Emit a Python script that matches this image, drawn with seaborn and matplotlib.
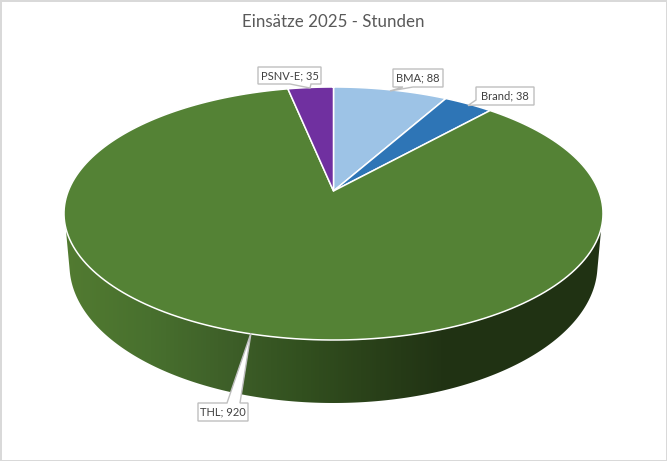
import numpy as np
import pandas as pd
import seaborn as sns
import matplotlib.pyplot as plt
from matplotlib.colors import LinearSegmentedColormap
from matplotlib.patches import Polygon

# Data
categories = ['BMA', 'Brand', 'THL', 'PSNV-E']
hours = [88, 38, 920, 35]
slice_colors = ['#9DC3E6', '#2E75B6', '#548235', '#7030A0']
side_stops = [(0.0, '#527B31'), (0.16, '#48702E'), (0.31, '#3D5E28'), (0.44, '#32501F'),
              (0.55, '#2B431A'), (0.70, '#213314'), (1.0, '#203213')]

df = pd.DataFrame({'category': categories, 'hours': hours})

sns.set_theme(style='white')
plt.rcParams['font.family'] = ['Lato', 'DejaVu Sans']

# Top and bottom ellipse of the disc, in pixels
top_cx, top_cy, top_a, top_b = 333.5, 213.5, 269.5, 126.5
bot_cx, bot_cy, bot_a, bot_b = 333.5, 265, 264, 138
tilt = 0.178

side_cmap = LinearSegmentedColormap.from_list('side', side_stops)

fig = plt.figure(figsize=(6.67, 4.61), dpi=100)
ax = fig.add_axes([0, 0, 1, 1])


# Perspective view of a point on a disc, angle clockwise from 12 o'clock
def project(theta, cx, cy, a, b, r=1.0):
    u = r * np.sin(theta)
    v = r * np.cos(theta)
    d = 1 + tilt * v
    x = u * np.sqrt(1 - tilt ** 2) / d
    y = (v + tilt) / d
    return cx + a * x, cy - b * y


top = (top_cx, top_cy, top_a, top_b)
bottom = (bot_cx, bot_cy, bot_a, bot_b)

edges = np.concatenate([[0], np.cumsum(df['hours'])]) / df['hours'].sum() * 2 * np.pi

# Side wall, only the front shows
top_x, top_y = project(np.linspace(1.86, 2 * np.pi - 1.86, 300), *top)
bot_x, bot_y = project(np.linspace(2 * np.pi - 1.80, 1.80, 300), *bottom)
wall = Polygon(np.c_[np.r_[top_x, bot_x], np.r_[top_y, bot_y]], closed=True,
               facecolor='none', edgecolor='none', transform=ax.transData)
ax.add_patch(wall)
gradient = ax.imshow(np.linspace(0, 1, 540)[None, :], cmap=side_cmap, aspect='auto',
                     extent=(64, 604, 410, 220), zorder=1)
gradient.set_clip_path(wall)

# Top of the pie
apex_x, apex_y = project(0, *top, r=0)
for i in range(len(categories)):
    th = np.linspace(edges[i], edges[i + 1], 200)
    xs, ys = project(th, *top)
    ax.fill(np.r_[apex_x, xs], np.r_[apex_y, ys], facecolor=slice_colors[i],
            edgecolor='white', lw=1.1, zorder=2, joinstyle='round')


# Label with its callout, outline goes clockwise from the top left corner
def callout(text, box, pointer, side):
    x0, y0, x1, y1 = box
    if side == 'top':
        pts = [(x0, y0)] + pointer + [(x1, y0), (x1, y1), (x0, y1)]
    elif side == 'bottom':
        pts = [(x0, y0), (x1, y0), (x1, y1)] + pointer + [(x0, y1)]
    else:
        pts = [(x0, y0), (x1, y0), (x1, y1), (x0, y1)] + pointer
    ax.add_patch(Polygon(pts, closed=True, facecolor='white', edgecolor='#BFBFBF',
                         lw=1, zorder=3, joinstyle='miter'))
    ax.text((x0 + x1) / 2, (y0 + y1) / 2, text, ha='center', va='center',
            fontsize=8, color='#404040', zorder=4)


callout(f'{categories[3]}; {hours[3]}', (258, 67, 321, 84),
        [(311, 84), (310, 88), (290, 84)], 'bottom')
callout(f'{categories[0]}; {hours[0]}', (393, 69, 443, 87),
        [(413, 87), (390, 91), (403, 87)], 'bottom')
callout(f'{categories[1]}; {hours[1]}', (476, 87, 534, 105),
        [(476, 105), (468, 105.5), (476, 100)], 'left')
callout(f'{categories[2]}; {hours[2]}', (198, 403, 248, 421),
        [(227, 403), (251, 333), (240, 403)], 'top')

ax.text(333, 22, 'Einsätze 2025 - Stunden', ha='center', va='center',
        fontsize=12.2, color='#595959')

ax.set_xlim(0, 667)
ax.set_ylim(461, 0)
ax.axis('off')

# Chart frame
fig.patch.set_edgecolor('#D9D9D9')
fig.patch.set_linewidth(2)

fig.savefig('out.png', dpi=100, edgecolor=fig.get_edgecolor())
